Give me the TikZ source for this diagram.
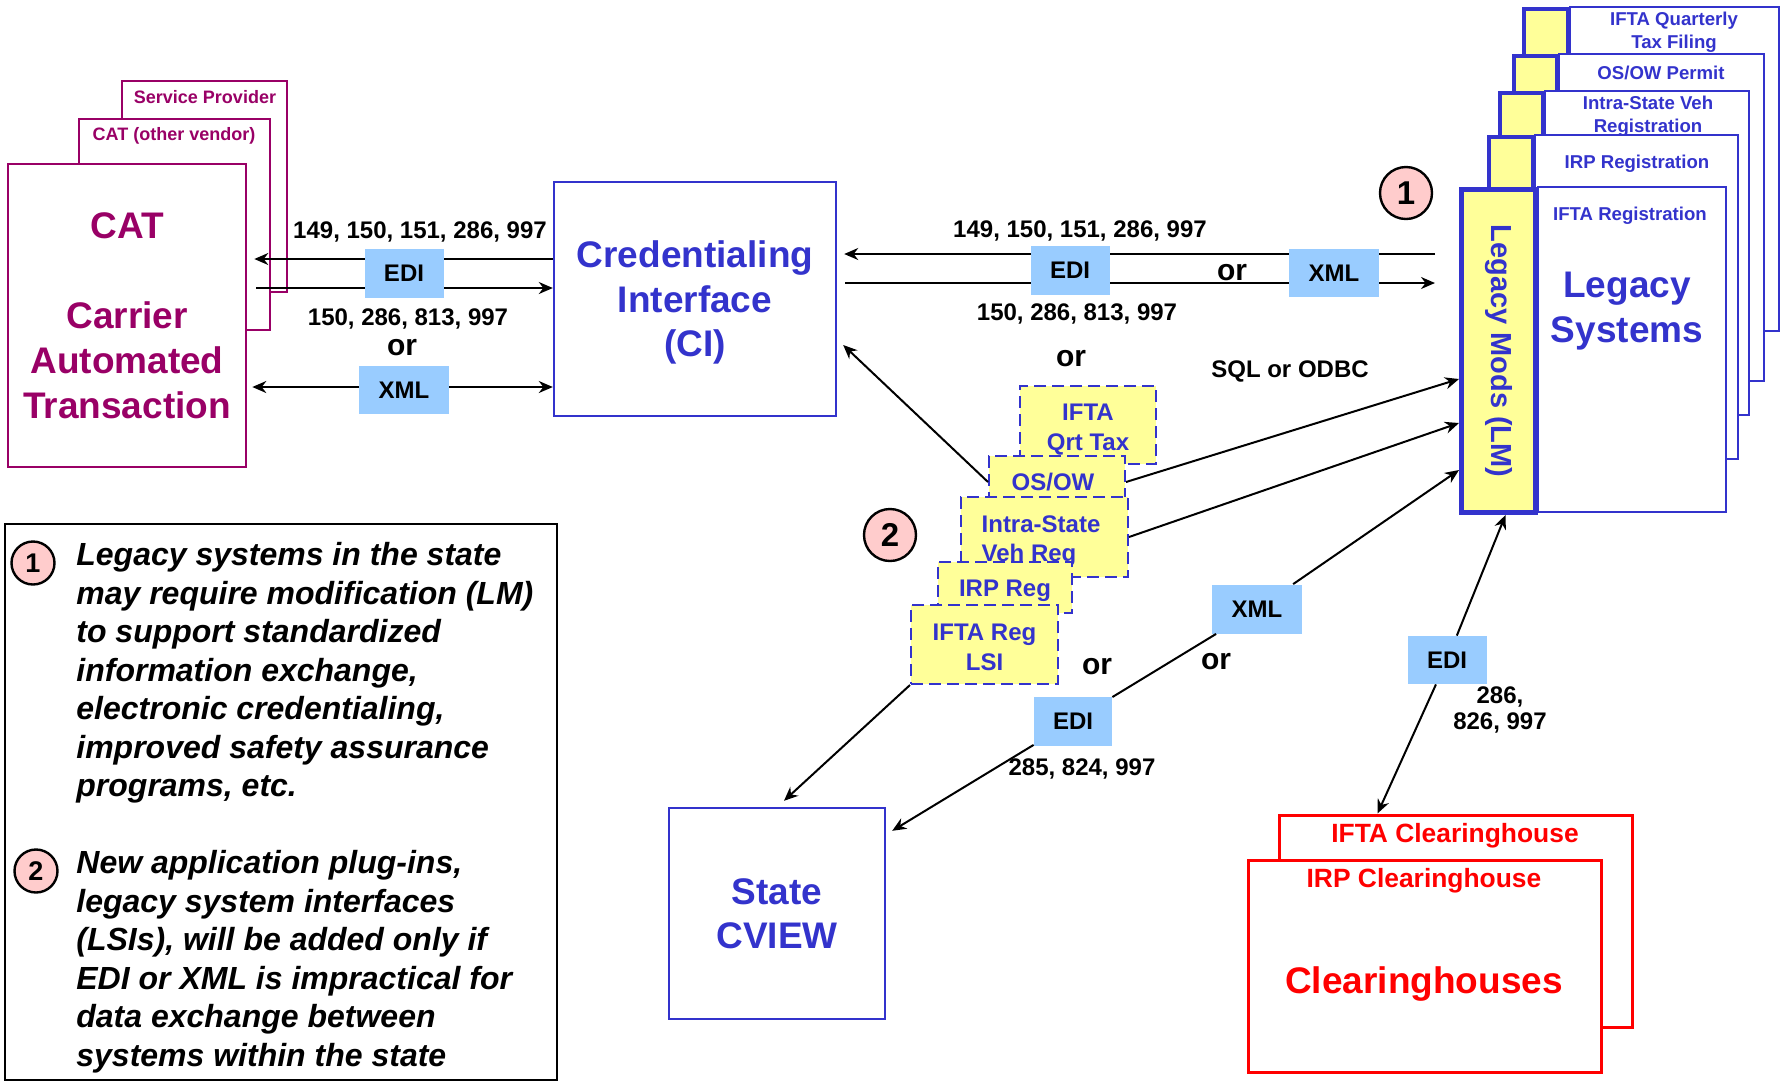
\documentclass[tikz,border=0pt]{standalone}
\usepackage{fontspec}
\setmainfont{Liberation Sans}
\usetikzlibrary{arrows.meta}
\usetikzlibrary{shapes}
\definecolor{catcol}{RGB}{153,0,102}
\definecolor{blu}{RGB}{51,51,204}
\definecolor{ylw}{RGB}{255,255,153}
\definecolor{fmtcol}{RGB}{153,204,255}
\definecolor{pnk}{RGB}{255,204,204}
\definecolor{chred}{RGB}{255,0,0}
\newcommand{\fs}[2]{\fontsize{#1}{#2}\selectfont\bfseries}
\tikzstyle{tran}=[draw,->,>={Stealth[length=7pt,width=6pt]},line width=1pt]
\tikzstyle{catb}=[draw=catcol,line width=1.3pt,fill=white,text=catcol,inner sep=0pt]
\tikzstyle{sys}=[draw=blu,line width=1.2pt,fill=white,text=blu,inner sep=0pt]
\tikzstyle{fmt}=[fill=fmtcol,inner sep=0pt,font=\fs{12}{14}]
\tikzstyle{plug}=[draw=blu,dash pattern=on 6pt off 3pt,line width=1pt,fill=ylw,inner sep=0pt]
\tikzstyle{ptxt}=[text=blu,inner sep=0pt,font=\fs{12}{14.8}]
\tikzstyle{tab}=[draw=blu,line width=2pt,fill=ylw,inner sep=0pt]
\tikzstyle{lsys}=[draw=blu,line width=1pt,fill=white,inner sep=0pt]
\tikzstyle{ltxt}=[text=blu,font=\fs{9.3}{11.5},align=center,inner sep=0pt]
\tikzstyle{ch}=[draw=chred,line width=1.5pt,fill=white,inner sep=0pt]
\tikzstyle{num}=[circle,draw,line width=1.2pt,fill=pnk,inner sep=0pt]
\tikzstyle{lbl}=[font=\fs{12}{13},align=center,inner sep=0pt]
\tikzstyle{ortxt}=[font=\fs{15}{15},inner sep=0pt]

\begin{document}
\begin{tikzpicture}[x=0.5pt,y=-0.5pt]
\useasboundingbox (0,0) rectangle (1785,1084);

\node[catb,minimum width=82.5pt,minimum height=105.5pt] (sp) at (204.5,186.5) {};
\node[text=catcol,font=\fs{9}{11}] (sptxt) at (205,97) {Service Provider};
\node[catb,minimum width=95.5pt,minimum height=105.5pt] (cov) at (174.5,224.5) {};
\node[text=catcol,font=\fs{9}{11}] (covtxt) at (174,136) {CAT (other vendor)};
\node[catb,minimum width=119pt,minimum height=151.5pt,align=center,
font=\fs{18.5}{22.5}] (cat) at (127,315.5) {CAT\\[22.5pt]Carrier\\Automated\\Transaction};

\node[sys,minimum width=141pt,minimum height=117pt] (ci) at (695,299) {};
\node[text=blu,align=center,inner sep=0pt,font=\fs{18.5}{22.2}] (citxt) at (695,302.5) {Credentialing\\Interface\\(CI)};

\draw[tran,shorten >=3.5pt] (ci.west |- 0,259) -- (cat.east |- 0,259);
\draw[tran,shorten <=4.5pt] (cat.east |- 0,288) -- (ci.west |- 0,288);
\draw[tran,<->,shorten <=2.5pt] (cat.east |- 0,387) -- (ci.west |- 0,387);
\node[fmt,minimum width=39.5pt,minimum height=24.5pt] (edi1) at (404,273) {EDI};
\node[fmt,minimum width=45pt,minimum height=24pt] (xml1) at (404,390) {XML};
\node[lbl] (codes1) at (420,232) {149, 150, 151, 286, 997};
\node[lbl] (codes2) at (408,319) {150, 286, 813, 997};
\node[ortxt] (or1) at (402,348) {or};

%% legacy systems, back to front
\node[lsys,minimum width=104.5pt,minimum height=162pt] (ls5) at (1674.5,169) {};
\node[tab,minimum width=22pt,minimum height=160pt] (tab5) at (1546,169) {};
\node[ltxt] (ls5txt) at (1674,32) {IFTA Quarterly\\Tax Filing};
\node[lsys,minimum width=102.5pt,minimum height=163.5pt] (ls4) at (1661.5,217.5) {};
\node[tab,minimum width=21.5pt,minimum height=161.5pt] (tab4) at (1535.5,217.5) {};
\node[ltxt] (ls4txt) at (1661,73) {OS/OW Permit};
\node[lsys,minimum width=102pt,minimum height=162pt] (ls3) at (1647,253) {};
\node[tab,minimum width=21.5pt,minimum height=160pt] (tab3) at (1521.5,253) {};
\node[ltxt] (ls3txt) at (1648,116) {Intra-State Veh\\Registration};
\node[lsys,minimum width=101.5pt,minimum height=162pt] (ls2) at (1636.5,297) {};
\node[tab,minimum width=22pt,minimum height=160pt] (tab2) at (1511,297) {};
\node[ltxt] (ls2txt) at (1637,164) {IRP Registration};
\node[lsys,minimum width=94pt,minimum height=162.5pt] (ls1) at (1632,349.5) {};
% rotated: south is the left side, east the bottom
\node[tab,line width=2.5pt,minimum width=161.5pt,minimum height=37pt,text=blu,
font=\fs{14.5}{15},rotate=-90] (lm) at (1498.5,351) {Legacy Mods (LM)};
\node[ltxt] (ls1txt) at (1630,216) {IFTA Registration};
\node[ltxt,font=\fs{18.5}{22.2}] (legtxt) at (1627,311) {Legacy\\Systems};
\node[num,minimum size=26pt,font=\fs{16.5}{16}] (n1) at (1406,193) {1};

\draw[tran,shorten <=12pt,shorten >=3.5pt] (lm.south |- 0,254) -- (ci.east |- 0,254);
\draw[tran,shorten <=4pt,shorten >=12pt] (ci.east |- 0,283) -- (lm.south |- 0,283);
\node[fmt,minimum width=39.5pt,minimum height=24.5pt] (edi2) at (1070,270) {EDI};
\node[fmt,minimum width=45pt,minimum height=24pt] (xml2) at (1334,273) {XML};
\node[lbl] (codes3) at (1080,231) {149, 150, 151, 286, 997};
\node[lbl] (codes4) at (1077,314) {150, 286, 813, 997};
\node[ortxt] (or2) at (1232,273) {or};
\node[ortxt] (or3) at (1071,359) {or};
\node[lbl] (sql) at (1290,371) {SQL or ODBC};

%% plug-ins
\node[plug,minimum width=68pt,minimum height=39pt] (qrt) at (1088,425) {};
\node[ptxt,align=center] (qrttxt) at (1088,429.5) {IFTA\\Qrt Tax};
\node[plug,minimum width=68pt,minimum height=26pt] (osow) at (1057,482) {};
\node[ptxt] (osowtxt) at (1053,482) {OS/OW};
\node[plug,minimum width=83.5pt,minimum height=40pt] (intra) at (1044.5,537) {};
\node[ptxt,align=left] (intratxt) at (1041,541) {Intra-State\\Veh Reg};
\node[plug,minimum width=67pt,minimum height=25.5pt] (irp) at (1005,587.5) {};
\node[ptxt] (irptxt) at (1005,591) {IRP Reg};
\node[plug,minimum width=73.5pt,minimum height=39.5pt] (iftareg) at (984.5,644.5) {};
\node[ptxt,align=center] (iftaregtxt) at (984.5,647.5) {IFTA Reg\\LSI};
\node[num,minimum size=26pt,font=\fs{16.5}{16}] (n2) at (890,535) {2};

\node[sys,minimum width=108pt,minimum height=105.5pt,align=center,
font=\fs{18.5}{22}] (cview) at (777,913.5) {State\\CVIEW};

\draw[tran] (osow.west) -- ([shift={(6,46)}]ci.east);
\draw[tran] (osow.east) -- ([shift={(0,28)}]lm.south);
\draw[tran] (intra.east) -- ([shift={(0,72)}]lm.south);
\draw[tran] (iftareg.south west) -- ([shift={(7,-6)}]cview.north);

\node[fmt,minimum width=39pt,minimum height=24.5pt] (edi3) at (1073,721) {EDI};
\node[fmt,minimum width=45pt,minimum height=24.5pt] (xml3) at (1257,609) {XML};
\draw[tran] (edi3) -- ([shift={(6,24)}]cview.north east);
\draw[line width=1pt] (edi3) -- (xml3);
\draw[tran] (xml3) -- ([shift={(0,119)}]lm.south);
\node[ortxt] (or4) at (1097,667) {or};
\node[ortxt] (or5) at (1216,662) {or};
\node[lbl] (codes5) at (1082,769) {285, 824, 997};

%% clearinghouses
\node[ch,minimum width=176.5pt,minimum height=106pt] (iftach) at (1455.5,921) {};
\node[text=chred,font=\fs{13.2}{15}] (iftachtxt) at (1455,836) {IFTA Clearinghouse};
\node[ch,minimum width=176.5pt,minimum height=106pt] (irpch) at (1424.5,966) {};
\node[text=chred,font=\fs{13.2}{15}] (irpchtxt) at (1424,881) {IRP Clearinghouse};
\node[text=chred,font=\fs{18.5}{21}] (chtxt) at (1424,984) {Clearinghouses};
\node[fmt,minimum width=39.5pt,minimum height=24pt] (edi4) at (1447,660) {EDI};
\draw[tran] (edi4) -- ([shift={(7,0)}]lm.east);
\draw[tran] (edi4) -- ([shift={(-78,0)}]iftach.north);
\node[lbl] (codes6) at (1500,710) {286,\\826, 997};

%% notes
\node[draw,line width=1.2pt,minimum width=276pt,minimum height=278pt] (notes) at (281,802) {};
\node[num,minimum size=21.5pt,font=\fs{13.5}{13}] (k1) at (33,563) {1};
\node[num,minimum size=21.5pt,font=\fs{13.5}{13}] (k2) at (36,871) {2};
\node[anchor=north west,align=left,inner sep=0pt,font=\fs{16}{19.25}\itshape] (notetxt) at (76,542)
{Legacy systems in the state\\may require modification (LM)\\to support standardized\\information exchange,\\electronic credentialing,\\improved safety assurance\\programs, etc.\\[19.25pt]New application plug-ins,\\legacy system interfaces\\(LSIs), will be added only if\\EDI or XML is impractical for\\data exchange between\\systems within the state};
\end{tikzpicture}
\end{document}
